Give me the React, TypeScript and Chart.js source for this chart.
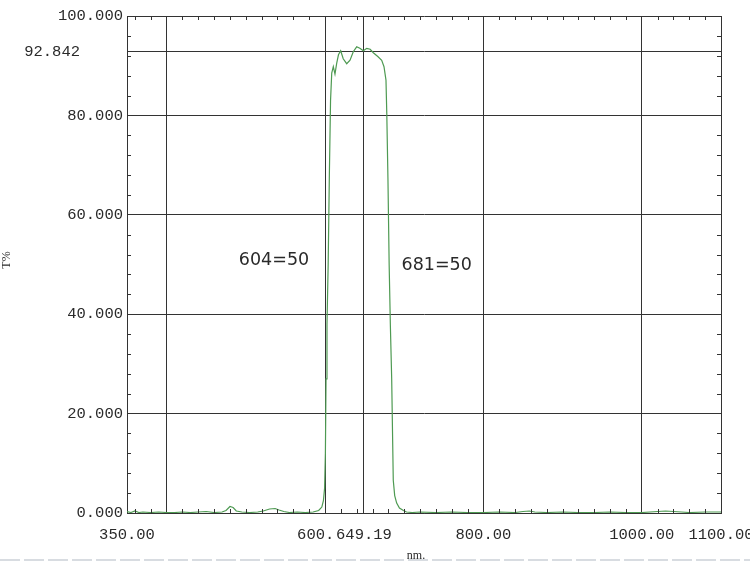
import React, { useEffect, useRef } from "react";
import { Chart, registerables } from "chart.js";

Chart.register(...registerables);

// ---- data ----
const WAVELENGTHS = [
  350, 355, 360, 365, 370, 380, 390, 400, 410, 420, 430, 440, 450, 460, 470, 475,
  480, 484, 488, 495, 505, 515, 522, 530, 537, 542, 548, 555, 565, 575, 585, 592,
  596, 598, 599.5, 600.5, 601.3, 602.5, 604, 605.5, 607, 608.5, 610.5, 612.6, 614.8,
  617, 619.8, 623, 627.4, 631.6, 635.7, 640, 644, 648.4, 652.7, 657, 661, 667,
  671.6, 674.5, 677, 678, 679.5, 681, 682.5, 684.2, 686.2, 688, 690.5, 694, 699,
  703, 710, 720, 740, 760, 780, 800, 820, 840, 850, 858, 865, 880, 900, 920, 940,
  960, 980, 1000, 1020, 1030, 1040, 1050, 1060, 1080, 1100,
];
const TRANSMITTANCE = [
  0.3, 0.1, 0.4, 0.1, 0.2, 0.1, 0.2, 0.1, 0.1, 0.2, 0.1, 0.2, 0.3, 0.1, 0.2, 0.5,
  1.3, 1.1, 0.4, 0.2, 0.1, 0.2, 0.4, 0.8, 0.9, 0.6, 0.3, 0.1, 0.2, 0.1, 0.2, 0.5,
  1.2, 2.5, 5, 12, 27, 38, 50, 68, 83, 88.5, 89.8, 88.3, 90.5,
  92.2, 93.0, 91.4, 90.4, 91.1, 92.8, 93.8, 93.5, 93.0, 93.5, 93.3, 92.6, 91.8,
  91.1, 89.8, 87.1, 80.5, 67, 50, 38, 27, 6.6, 3.5, 2, 1, 0.5,
  0.2, 0.1, 0.2, 0.1, 0.2, 0.1, 0.1, 0.2, 0.1, 0.3, 0.4, 0.2, 0.1, 0.2, 0.1, 0.1,
  0.2, 0.1, 0.1, 0.3, 0.4, 0.3, 0.2, 0.1, 0.2, 0.2,
];

const X_MIN = 350;
const X_MAX = 1100;
const Y_MIN = 0;
const Y_MAX = 100;

const X_TICKS = [350, 400, 600, 649.19, 800, 1000, 1100];
const X_TICK_LABELS = ["350.00", "", "600.00", "649.19", "800.00", "1000.00", "1100.00"];
const Y_TICKS = [0, 20, 40, 60, 80, 92.842, 100];
const Y_TICK_LABELS = ["0.000", "20.000", "40.000", "60.000", "80.000", "", "100.000"];

const PEAK_VALUE = 92.842;
const PEAK_LABEL = "92.842";

const X_MINOR_STEP = 20;
const Y_MINOR_STEP = 4;

const ANNOTATION_TEXTS = ["604=50", "681=50"];
const ANNOTATION_X = [535.6, 741.0];
const ANNOTATION_Y = [50.8, 49.8];

const X_TITLE = "nm.";
const Y_TITLE = "T%";

// ---- styles ----
const TICK_FONT = "Liberation Mono";
const TEXT_COLOR = "#2a2a2a";
const GRID_COLOR = "#333333";
const LINE_COLOR = "#4e9a52";

const decorPlugin = {
  id: "decor",
  beforeDraw(chart: any) {
    const ctx = chart.ctx;
    ctx.save();
    ctx.strokeStyle = "#d8dce1";
    ctx.lineWidth = 2;
    ctx.setLineDash([20, 4]);
    ctx.beginPath();
    ctx.moveTo(0, 560);
    ctx.lineTo(chart.width, 560);
    ctx.stroke();
    ctx.restore();
  },
  afterDraw(chart: any) {
    const ctx = chart.ctx;
    const xs = chart.scales.x;
    const ys = chart.scales.y;
    const a = chart.chartArea;
    ctx.save();
    // minor ticks
    ctx.strokeStyle = GRID_COLOR;
    ctx.lineWidth = 1;
    ctx.beginPath();
    for (let v = X_MIN + X_MINOR_STEP / 2; v < X_MAX; v += X_MINOR_STEP) {
      if (X_TICKS.includes(v)) continue;
      const px = Math.round(xs.getPixelForValue(v)) + 0.5;
      ctx.moveTo(px, a.bottom);
      ctx.lineTo(px, a.bottom - 4);
      ctx.moveTo(px, a.top);
      ctx.lineTo(px, a.top + 4);
    }
    for (let v = Y_MIN + Y_MINOR_STEP; v < Y_MAX; v += Y_MINOR_STEP) {
      if (Y_TICKS.includes(v)) continue;
      const py = Math.round(ys.getPixelForValue(v)) + 0.5;
      ctx.moveTo(a.left, py);
      ctx.lineTo(a.left + 4, py);
      ctx.moveTo(a.right, py);
      ctx.lineTo(a.right - 4, py);
    }
    ctx.stroke();

    // peak label
    ctx.fillStyle = TEXT_COLOR;
    ctx.font = `15.5px "${TICK_FONT}"`;
    ctx.textAlign = "right";
    ctx.textBaseline = "middle";
    ctx.fillText(PEAK_LABEL, 80, ys.getPixelForValue(PEAK_VALUE));

    // annotations
    ctx.font = '17.5px "DejaVu Sans"';
    ctx.textAlign = "center";
    for (let i = 0; i < ANNOTATION_TEXTS.length; i++) {
      ctx.fillText(
        ANNOTATION_TEXTS[i],
        xs.getPixelForValue(ANNOTATION_X[i]),
        ys.getPixelForValue(ANNOTATION_Y[i])
      );
    }

    // axis titles
    ctx.font = '12px "Liberation Serif"';
    ctx.fillText(X_TITLE, 416, 556);
    ctx.translate(7, 260);
    ctx.rotate(-Math.PI / 2);
    ctx.fillText(Y_TITLE, 0, 0);
    ctx.restore();
  },
};

export default function App() {
  const ref = useRef<HTMLCanvasElement | null>(null);

  useEffect(() => {
    if (!ref.current) return;
    const points = WAVELENGTHS.map((x, i) => ({ x, y: TRANSMITTANCE[i] }));
    const chart = new Chart(ref.current, {
      type: "line",
      data: {
        datasets: [
          {
            data: points,
            borderColor: LINE_COLOR,
            borderWidth: 1.2,
            pointRadius: 0,
            tension: 0,
            fill: false,
          },
        ],
      },
      options: {
        animation: false,
        responsive: false,
        devicePixelRatio: 1,
        layout: { padding: { left: 0, right: 29, top: 16, bottom: 0 } },
        plugins: { legend: { display: false }, tooltip: { enabled: false } },
        scales: {
          x: {
            type: "linear",
            min: X_MIN,
            max: X_MAX,
            afterBuildTicks: (s: any) => {
              s.ticks = X_TICKS.map((v) => ({ value: v }));
            },
            afterFit: (s: any) => {
              s.height = 50;
              s.paddingLeft = 0;
              s.paddingRight = 0;
            },
            grid: { color: GRID_COLOR, lineWidth: 1, drawTicks: false },
            border: { display: true, color: GRID_COLOR },
            ticks: {
              autoSkip: false,
              maxRotation: 0,
              minRotation: 0,
              padding: 13,
              color: TEXT_COLOR,
              font: { family: TICK_FONT, size: 15.5 },
              showLabelBackdrop: true,
              backdropColor: "#ffffff",
              backdropPadding: { top: 0, bottom: 0, left: 3, right: 0 },
              callback: (_v: any, i: number) => X_TICK_LABELS[i],
            },
          },
          y: {
            type: "linear",
            min: Y_MIN,
            max: Y_MAX,
            afterBuildTicks: (s: any) => {
              s.ticks = Y_TICKS.map((v) => ({ value: v }));
            },
            afterFit: (s: any) => {
              s.width = 127;
              s.paddingTop = 0;
              s.paddingBottom = 0;
            },
            grid: { color: GRID_COLOR, lineWidth: 1, drawTicks: false },
            border: { display: true, color: GRID_COLOR },
            ticks: {
              autoSkip: false,
              padding: 4,
              color: TEXT_COLOR,
              font: { family: TICK_FONT, size: 15.5 },
              callback: (_v: any, i: number) => Y_TICK_LABELS[i],
            },
          },
        },
      },
      plugins: [decorPlugin],
    } as any);
    return () => chart.destroy();
  }, []);

  return (
    <div style={{ position: "absolute", left: 0, top: 0, width: 750, height: 563, background: "#fff" }}>
      <canvas ref={ref} width={750} height={563} style={{ display: "block" }} />
    </div>
  );
}
